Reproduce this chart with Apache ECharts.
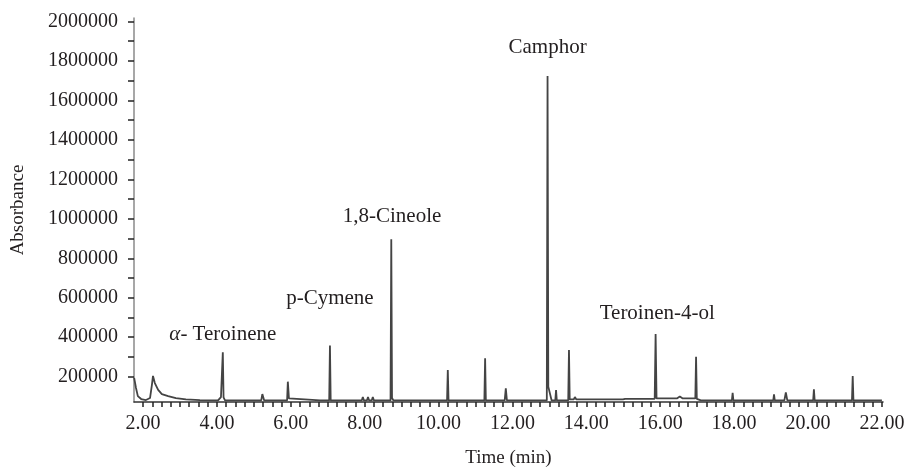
<!DOCTYPE html>
<html>
<head>
<meta charset="utf-8">
<script src="https://cdn.jsdelivr.net/npm/echarts@6/dist/echarts.min.js"></script>
<style>
html,body{margin:0;padding:0;background:#fff;}
#chart{width:906px;height:471px;}
</style>
</head>
<body>
<div id="chart"></div>
<script>
// Chromatogram trace: retention time (min) and absorbance
const traceTimes = [
  1.76, 1.81, 1.86, 1.95, 2.08, 2.19, 2.24, 2.27, 2.32, 2.41, 2.51, 2.68, 2.89, 3.16, 3.54, 4.03, 4.11,
  4.14, 4.16, 4.18, 4.22, 5.20, 5.23, 5.25, 5.28, 5.90, 5.92, 5.93, 5.95, 5.98, 6.79, 6.80, 6.82,
  7.04, 7.06, 7.08, 7.92, 7.95, 7.98, 8.06, 8.09, 8.12, 8.19, 8.22, 8.25, 8.70, 8.72, 8.74, 8.78,
  9.60, 10.23, 10.25, 10.27, 11.00, 11.24, 11.26, 11.28, 11.79, 11.82, 11.85, 12.93, 12.95, 12.97,
  13.02, 13.06, 13.16, 13.18, 13.20, 13.51, 13.53, 13.55, 13.66, 13.69, 13.73, 14.45, 14.48, 14.51,
  14.64, 14.67, 14.70, 14.83, 14.86, 14.89, 14.99, 15.02, 15.05, 15.85, 15.875, 15.90, 16.00, 16.45,
  16.53, 16.61, 16.95, 16.97, 16.99, 17.10, 17.94, 17.96, 17.98, 19.06, 19.08, 19.10, 19.36, 19.40,
  19.44, 20.14, 20.16, 20.18, 21.19, 21.21, 21.23, 22.00
];
const traceValues = [
  194000, 143000, 102000, 87000, 82000, 92000, 158000, 204000, 168000, 133000, 112000, 102000, 92000, 85000, 82000, 80000, 97000,
  100000, 324000, 95000, 80000, 80000, 112000, 112000, 80000, 80000, 175000, 175000, 90000, 80000, 80000, 86000, 80000,
  80000, 358000, 80000, 80000, 97000, 80000, 80000, 97000, 80000, 80000, 97000, 80000, 80000, 896000, 92000, 80000,
  80000, 80000, 234000, 80000, 80000, 80000, 293000, 80000, 80000, 141000, 80000, 80000, 1723000, 150000,
  148000, 80000, 80000, 133000, 80000, 80000, 335000, 85000, 85000, 97000, 85000, 85000, 92000, 85000,
  85000, 92000, 85000, 85000, 92000, 85000, 85000, 92000, 88000, 88000, 416000, 90000, 90000, 90000,
  100000, 90000, 90000, 301000, 88000, 80000, 80000, 119000, 80000, 80000, 111000, 80000, 80000, 121000,
  80000, 80000, 136000, 80000, 80000, 204000, 80000, 80000
];

// Compound annotations
const peakNames = ["α- Teroinene", "p-Cymene", "1,8-Cineole", "Camphor", "Teroinen-4-ol"];
const peakLabelTimes = [4.16, 7.06, 8.74, 12.95, 15.92];
const peakLabelValues = [415000, 596000, 1012000, 1866000, 518000];

// Axis ticks
const xLabelValues = [2, 4, 6, 8, 10, 12, 14, 16, 18, 20, 22];
const yLabelValues = [200000, 400000, 600000, 800000, 1000000, 1200000, 1400000, 1600000, 1800000, 2000000];
const yTickValues = [200000, 300000, 400000, 500000, 600000, 700000, 800000, 900000, 1000000, 1100000,
  1200000, 1300000, 1400000, 1500000, 1600000, 1700000, 1800000, 1900000, 2000000];
const xTickValues = [];
for (let i = 0; i <= 81; i++) xTickValues.push(1.75 + i * 0.25);

const FONT = '"Liberation Serif", "DejaVu Serif", serif';
const TXT = '#231f20';

const chart = echarts.init(document.getElementById('chart'), null, {renderer: 'canvas'});
chart.setOption({
  animation: false,
  backgroundColor: '#ffffff',
  grid: {left: 134, right: 23, top: 18, bottom: 69, containLabel: false, outerBoundsMode: 'none'},
  xAxis: {
    type: 'value',
    min: 1.756,
    max: 22.03,
    name: 'Time (min)',
    nameLocation: 'middle',
    nameGap: 47,
    nameTextStyle: {fontFamily: FONT, fontSize: 19, color: TXT},
    axisLine: {show: true, lineStyle: {color: '#333', width: 1.5}},
    axisTick: {show: true, customValues: xTickValues, length: 5, lineStyle: {color: '#222', width: 1.5}},
    axisLabel: {customValues: xLabelValues, margin: 12, fontFamily: FONT, fontSize: 20, color: TXT,
      formatter: v => Number(v).toFixed(2)},
    splitLine: {show: false}
  },
  yAxis: {
    type: 'value',
    min: 72000,
    max: 2017000,
    name: 'Absorbance',
    nameLocation: 'middle',
    nameGap: 106,
    nameRotate: 90,
    nameTextStyle: {fontFamily: FONT, fontSize: 19, color: TXT},
    axisLine: {show: true, lineStyle: {color: '#8a8a8a', width: 1.5}},
    axisTick: {show: true, customValues: yTickValues, length: 6, lineStyle: {color: '#222', width: 1.5}},
    axisLabel: {customValues: yLabelValues, margin: 16, fontFamily: FONT, fontSize: 20, color: TXT,
      formatter: v => String(Math.round(v))},
    splitLine: {show: false}
  },
  series: [
    {
      type: 'line',
      data: traceTimes.map((t, i) => [t, traceValues[i]]),
      showSymbol: false,
      symbol: 'none',
      lineStyle: {color: '#444', width: 1.8},
      z: 3
    },
    {
      type: 'scatter',
      data: peakNames.map((n, i) => [peakLabelTimes[i], peakLabelValues[i], n]),
      symbolSize: 1,
      itemStyle: {color: 'rgba(0,0,0,0)', opacity: 1},
      label: {
        show: true,
        position: 'inside',
        fontFamily: FONT,
        fontSize: 21,
        color: TXT,
        opacity: 1,
        formatter: p => p.data[2].replace('α', '{i|α}'),
        rich: {i: {fontFamily: FONT, fontSize: 21, fontStyle: 'italic', color: TXT}}
      },
      z: 4
    }
  ]
});
</script>
</body>
</html>
